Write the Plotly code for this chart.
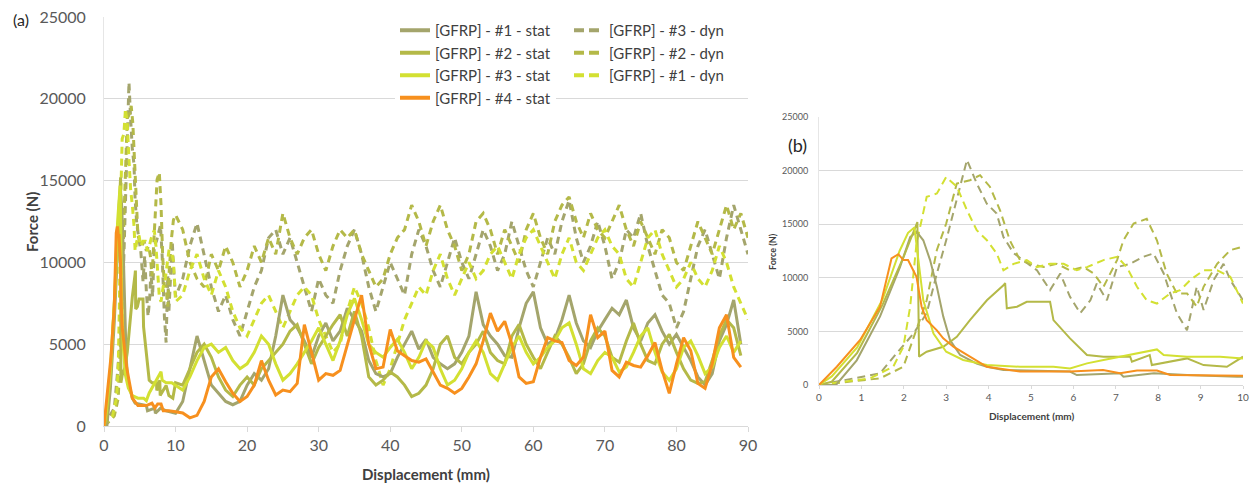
import plotly.graph_objects as go

# page has an 8px body margin; figure is sized so it fills the 1260x485 window
W, H = 1252, 477
OFF = 8

# ---------------- data ----------------
# detail 0-10 mm + coarse 11-90 mm
coarse_x = list(range(11, 90))
coarse_x90 = list(range(11, 91))

stat1_x0 = [0, 0.4, 0.89, 1.44, 1.91, 2.15, 2.3, 2.46, 2.62, 2.78, 2.93, 3.09, 3.33, 3.72, 3.96, 4.35, 5.92, 6.08, 7.1, 7.18, 7.9, 8.68, 9.86, 10]
stat1_y0 = [0, 0, 2300, 6400, 11000, 13800, 14300, 13500, 11650, 9160, 6400, 4200, 2800, 2000, 1700, 1400, 1250, 930, 1100, 780, 1090, 930, 780, 780]
stat1_y1 = [1500, 3500, 5500, 4000, 2500, 2000, 1500, 1300, 1500, 2500, 3200, 2800, 3500, 5500, 8000, 6500, 6000, 5200, 4200, 5500,
            6300, 5200, 5800, 7200, 6500, 5800, 4000, 3200, 3000, 3200, 4200, 5000, 5800, 4700, 5300, 4200, 3800, 3500, 3800, 4500,
            5500, 8200, 6200, 5500, 5000, 4300, 4200, 6000, 7500, 8200, 6000, 5000, 5300, 6500, 8000, 6300, 5200, 4800, 5800, 6500,
            7200, 6800, 7700, 6000, 5200, 6300, 6800, 5800, 5000, 5600, 4800, 4000, 3000, 2500, 3200, 5200, 6200, 7700, 5000]

stat2_x0 = [0, 0.3, 0.9, 1.5, 2.0, 2.32, 2.36, 2.54, 2.93, 3.25, 3.56, 3.96, 4.35, 4.39, 4.43, 4.67, 4.9, 5.14, 5.45, 5.53, 5.92, 6.32, 6.71, 7.1, 7.34, 7.38, 7.73, 7.8, 7.85, 8.28, 8.68, 9.07, 9.62, 10]
stat2_y0 = [0, 300, 3000, 7500, 12000, 15200, 2640, 3100, 3570, 4500, 6050, 7900, 9300, 9500, 7150, 7300, 7760, 7760, 7760, 6050, 4350, 2800, 2640, 2640, 2640, 2170, 2640, 2800, 1860, 2170, 2480, 1860, 1700, 2640]
stat2_y1 = [2500, 3500, 4500, 5000, 4200, 3000, 2200, 1800, 2500, 3000, 2500, 3500, 4000, 4500, 5000, 5800, 6200, 5000, 3800, 4800,
            5500, 6200, 6800, 5500, 7000, 5500, 3000, 2500, 2800, 3300, 3000, 2500, 1800, 2000, 2500, 3500, 5000, 5500, 4200, 3800,
            4500, 5000, 5800, 4500, 4000, 3800, 5500, 6200, 5000, 4200, 3500, 4500, 5500, 5000, 4200, 3200, 3800, 5200, 6000, 5500,
            4200, 3900, 5200, 6300, 5000, 4000, 3800, 5000, 5600, 4500, 3500, 2800, 2600, 2700, 4000, 5500, 6500, 6000, 4300]

stat3_x0 = [0, 0.3, 0.9, 1.5, 1.9, 2.1, 2.25, 2.46, 2.7, 3.0, 3.4, 3.96, 4.74, 5.53, 5.92, 6.32, 6.71, 7.1, 7.5, 7.97, 8.13, 8.68, 9.46, 10]
stat3_y0 = [0, 800, 3500, 8000, 12500, 14200, 14700, 7900, 4800, 3100, 2330, 1860, 1700, 1700, 1550, 2020, 2330, 2640, 2950, 3320, 2800, 2640, 2640, 2480]
stat3_y1 = [2200, 3000, 4000, 4800, 5000, 4500, 4800, 4000, 3500, 3800, 4500, 5500, 5000, 3800, 2800, 3200, 3800, 4500, 5200, 6000,
            5000, 4000, 5200, 6800, 7800, 6500, 5000, 4500, 4200, 4800, 5300, 4500, 3500, 4200, 5200, 4800, 3500, 2500, 2800, 3500,
            4500, 5200, 4500, 3200, 2800, 3800, 4800, 5500, 4500, 3800, 4200, 4800, 5200, 6000, 6300, 5000, 3500, 3200, 4000, 4500,
            4200, 3300, 3600, 4500, 5500, 6000, 4500, 3300, 2800, 3500, 4800, 5200, 4300, 3200, 3600, 4800, 5500, 4500, 5200]

stat4_x0 = [0, 0.42, 0.97, 1.44, 1.71, 1.87, 1.99, 2.1, 2.3, 2.42, 2.54, 2.78, 2.93, 3.17, 3.56, 3.96, 4.74, 5.92, 6.7, 7.1, 7.5, 7.97, 8.28, 9.07, 10]
stat4_y0 = [0, 1700, 4200, 7300, 11800, 12200, 11650, 11650, 10100, 7300, 6050, 5100, 4350, 3570, 2640, 1700, 1250, 1250, 1400, 1100, 1350, 1350, 930, 930, 870]
stat4_y1 = [800, 500, 650, 1500, 3000, 3500, 2700, 2000, 1500, 1800, 2500, 4000, 2800, 1900, 2200, 2100, 2600, 6200, 4500, 2800,
            3200, 3100, 3400, 5000, 6500, 8000, 5000, 3500, 3600, 5900, 4600, 4300, 4000, 3900, 4100, 3300, 2500, 2300, 2000, 2300,
            3000, 3800, 5200, 6900, 5800, 6400, 5000, 3000, 2600, 2700, 4200, 5400, 5200, 5100, 4000, 3700, 4200, 6800, 5400, 5800,
            3400, 3000, 3900, 3700, 3600, 4300, 5100, 3400, 2000, 3800, 5400, 4600, 2600, 2300, 3800, 6000, 6800, 4200, 3600]

dyn3_x0 = [0, 0.81, 1.44, 1.83, 2.23, 2.54, 2.78, 3.0, 3.25, 3.49, 3.72, 3.96, 4.19, 4.35, 4.59, 4.82, 5.14, 5.45, 5.69, 5.92, 6.16, 6.4, 6.55, 6.79, 7.03, 7.34, 7.65, 7.89, 8.13, 8.44, 8.68, 8.91, 9.07, 9.31, 9.54, 9.7, 10]
dyn3_y0 = [0, 620, 1090, 2950, 4800, 6700, 10400, 13500, 17200, 21000, 18800, 16900, 16000, 13800, 12300, 11650, 10700, 8850, 10400, 8230, 6700, 7900, 9470, 7900, 11000, 11300, 11960, 12270, 10400, 6700, 5100, 9160, 7000, 9800, 11300, 9800, 7900]
dyn3_y1 = [9000, 11000, 12400, 10500, 8500, 7000, 8000, 6500, 5500, 7000, 8500, 9500, 11500, 12000, 10500, 11500, 10000, 8500, 7000, 9000,
           8000, 7500, 9500, 11000, 12000, 10500, 8500, 7000, 8500, 10000, 9000, 8000, 10500, 12000, 11000, 9500, 8500, 10000, 11500, 10000,
           9000, 10500, 12000, 11000, 9500, 10500, 12500, 11000, 9500, 8500, 10000, 11500, 10500, 12500, 13800, 11500, 10000, 11000, 12500, 11000,
           9000, 10000, 12000, 11500, 13000, 11000, 9500, 8000, 7500, 6000, 7000, 9000, 11000, 12000, 10500, 9000, 11500, 13500, 12000, 10500]

dyn2_x0 = [0, 0.81, 1.44, 1.99, 2.3, 2.54, 2.78, 3.0, 3.25, 3.56, 3.8, 4.03, 4.27, 4.5, 4.74, 4.98, 5.3, 5.61, 5.92, 6.24, 6.48, 6.71, 7.03, 7.18, 7.42, 7.73, 7.97, 8.2, 8.44, 8.68, 8.91, 9.07, 9.39, 9.7, 10]
dyn2_y0 = [0, 310, 620, 1700, 5100, 7900, 12600, 15060, 18800, 19100, 19570, 18500, 16300, 13500, 11650, 11300, 11000, 11300, 10700, 11000, 10400, 9160, 11650, 13500, 15060, 15500, 13500, 10400, 8540, 8540, 7300, 9160, 11300, 12580, 12900]
dyn2_y1 = [12000, 10000, 9000, 8500, 10500, 9500, 11000, 10000, 8500, 9500, 11000, 10000, 11500, 10500, 13000, 11500, 10500, 11500, 12000, 10500,
           9500, 11000, 12000, 11500, 12000, 10500, 9500, 8500, 9000, 10500, 11500, 12000, 13500, 12500, 11000, 12500, 13500, 12000, 11000, 9500,
           10500, 12500, 13000, 12000, 10500, 12000, 11000, 10000, 12000, 13000, 11500, 10500, 12500, 13500, 14000, 12500, 11500, 13000, 12000, 11500,
           12500, 13500, 12000, 11000, 12500, 11500, 10500, 12000, 11500, 10000, 9500, 11000, 12500, 11500, 10500, 12000, 13500, 12000, 13000, 11500]

dyn1_x0 = [0, 0.65, 1.2, 1.75, 1.99, 2.15, 2.3, 2.54, 2.78, 3.0, 3.25, 3.49, 3.72, 3.96, 4.19, 4.35, 4.59, 4.9, 5.14, 5.45, 5.77, 6.08, 6.32, 6.71, 7.03, 7.26, 7.5, 7.73, 7.97, 8.28, 8.52, 8.76, 9.07, 9.39, 9.7, 10]
dyn1_y0 = [0, 300, 620, 1700, 3570, 7300, 13200, 17550, 17860, 19400, 18500, 16300, 14440, 13500, 12270, 10700, 11300, 11650, 11000, 11300, 11300, 10700, 11000, 11650, 11960, 11000, 9160, 7900, 7600, 8540, 8850, 9800, 10700, 10700, 10100, 7600]
dyn1_y1 = [8000, 9500, 10500, 9000, 8000, 9500, 8500, 7000, 6000, 5500, 6500, 7500, 8000, 7000, 6000, 7000, 8000, 8500, 8000, 6500,
           5500, 4500, 5000, 7000, 8500, 7500, 6000, 4000, 2500, 3500, 5000, 6500, 7500, 8500, 8000, 9500, 10500, 9000, 8000, 9000,
           10000, 9000, 9500, 10500, 11000, 10000, 9000, 10500, 11500, 12000, 11000, 10000, 9000, 10500, 11500, 10000, 9500, 10500, 11500, 12000,
           11000, 10500, 9000, 8500, 10000, 11500, 12000, 10500, 9500, 8500, 9000, 10000, 9000, 8500, 9500, 11000, 10000, 8500, 7500, 6500]

names = ["[GFRP] - #1 - stat", "[GFRP] - #2 - stat", "[GFRP] - #3 - stat", "[GFRP] - #4 - stat",
         "[GFRP] - #3 - dyn", "[GFRP] - #2 - dyn", "[GFRP] - #1 - dyn"]

x_ticks_a = [0, 10, 20, 30, 40, 50, 60, 70, 80, 90]
x_ticks_b = [0, 1, 2, 3, 4, 5, 6, 7, 8, 9, 10]
y_ticks = [0, 5000, 10000, 15000, 20000, 25000]
y_tick_text = ["0", "5000", "10000", "15000", "20000", "25000"]

# ---------------- styles ----------------
C1, C2, C3, C4 = "#A4A56C", "#B4B948", "#D3E032", "#F7901E"
series = [
    (stat1_x0, stat1_y0, coarse_x, stat1_y1, C1, "solid", "legend"),
    (stat2_x0, stat2_y0, coarse_x, stat2_y1, C2, "solid", "legend"),
    (stat3_x0, stat3_y0, coarse_x, stat3_y1, C3, "solid", "legend"),
    (stat4_x0, stat4_y0, coarse_x, stat4_y1, C4, "solid", "legend"),
    (dyn3_x0, dyn3_y0, coarse_x90, dyn3_y1, C1, "dash", "legend2"),
    (dyn2_x0, dyn2_y0, coarse_x90, dyn2_y1, C2, "dash", "legend2"),
    (dyn1_x0, dyn1_y0, coarse_x90, dyn1_y1, C3, "dash", "legend2"),
]

fig = go.Figure()
order = [4, 5, 6, 0, 1, 2, 3]
for i in order:
    x0, y0, x1, y1, col, kind, lg = series[i]
    xs = x0 + x1
    ys = y0 + y1
    dash_a = "solid" if kind == "solid" else "7px,5px"
    dash_b = "solid" if kind == "solid" else "8px,5px"
    fig.add_trace(go.Scatter(x=xs, y=ys, mode="lines", name=names[i],
                             line=dict(color=col, width=3, dash=dash_a),
                             xaxis="x", yaxis="y", showlegend=False))
    fig.add_trace(go.Scatter(x=x0, y=y0, mode="lines", name=names[i],
                             line=dict(color=col, width=2, dash=dash_b),
                             xaxis="x2", yaxis="y2", showlegend=False))

for i in range(7):
    x0, y0, x1, y1, col, kind, lg = series[i]
    fig.add_trace(go.Scatter(x=[None], y=[None], mode="lines", name=names[i],
                             line=dict(color=col, width=4, dash="solid" if kind == "solid" else "10px,5px"),
                             xaxis="x", yaxis="y", legend=lg, showlegend=True))

FONT = "Lato, Carlito, 'Liberation Sans', sans-serif"
GRID = "#D9D9D9"
TICKC = "#595959"

def px(x):
    return (x - OFF) / W

def py(y):
    return 1 - (y - OFF) / H

ax_common = dict(showgrid=False, zeroline=False, showline=True, linecolor=GRID, linewidth=1,
                 ticks="outside", tickcolor=GRID, fixedrange=True, automargin=False,
                 ticklabeloverflow="allow")
ay_common = dict(showgrid=True, gridcolor=GRID, gridwidth=1, zeroline=False, showline=True,
                 linecolor="#E6E6E6", ticks="", fixedrange=True, automargin=False,
                 tickvals=y_ticks, ticktext=y_tick_text, ticklabeloverflow="allow")

def label(text, x, y, size, color="#404040", angle=0):
    return dict(text=text, x=px(x), y=py(y), xref="paper", yref="paper", showarrow=False,
                xanchor="center", yanchor="middle", textangle=angle,
                font=dict(size=size, color=color))

fig.update_layout(
    width=W, height=H,
    margin=dict(l=0, r=0, t=0, b=0, autoexpand=False),
    paper_bgcolor="white", plot_bgcolor="white",
    font=dict(family=FONT, color=TICKC),
    xaxis=dict(domain=[px(104), px(748)], range=[0, 90], tickvals=x_ticks_a, ticklen=5,
               tickfont=dict(size=16, color=TICKC), anchor="y", **ax_common),
    yaxis=dict(domain=[py(426), py(17)], range=[0, 25000],
               tickfont=dict(size=16, color=TICKC), anchor="x", ticklabelstandoff=14, **ay_common),
    xaxis2=dict(domain=[px(819), px(1243)], range=[0, 10], tickvals=x_ticks_b, ticklen=3,
                tickfont=dict(size=10, color=TICKC), anchor="y2", **ax_common),
    yaxis2=dict(domain=[py(385), py(117)], range=[0, 25000],
                tickfont=dict(size=9, color=TICKC), anchor="x2", ticklabelstandoff=8, **ay_common),
    legend=dict(x=px(395), y=py(14), xanchor="left", yanchor="top", bgcolor="white",
                font=dict(size=15, color="#404040", family=FONT), tracegroupgap=0,
                itemwidth=30, borderwidth=0),
    legend2=dict(x=px(569), y=py(14), xanchor="left", yanchor="top", bgcolor="white",
                 font=dict(size=15, color="#404040", family=FONT), tracegroupgap=0,
                 itemwidth=30, borderwidth=0),
    annotations=[
        label("(a)", 21, 20, 16, "#262626"),
        label("<b>Force (N)</b>", 32, 222, 15, angle=-90),
        label("<b>Displacement (mm)</b>", 426, 474, 15),
        label("(b)", 797, 145, 18, "#262626"),
        label("<b>Force (N)</b>", 772, 252, 9, angle=-90),
        label("<b>Displacement (mm)</b>", 1031, 416, 10),
    ],
)

fig.write_html("out.html")
